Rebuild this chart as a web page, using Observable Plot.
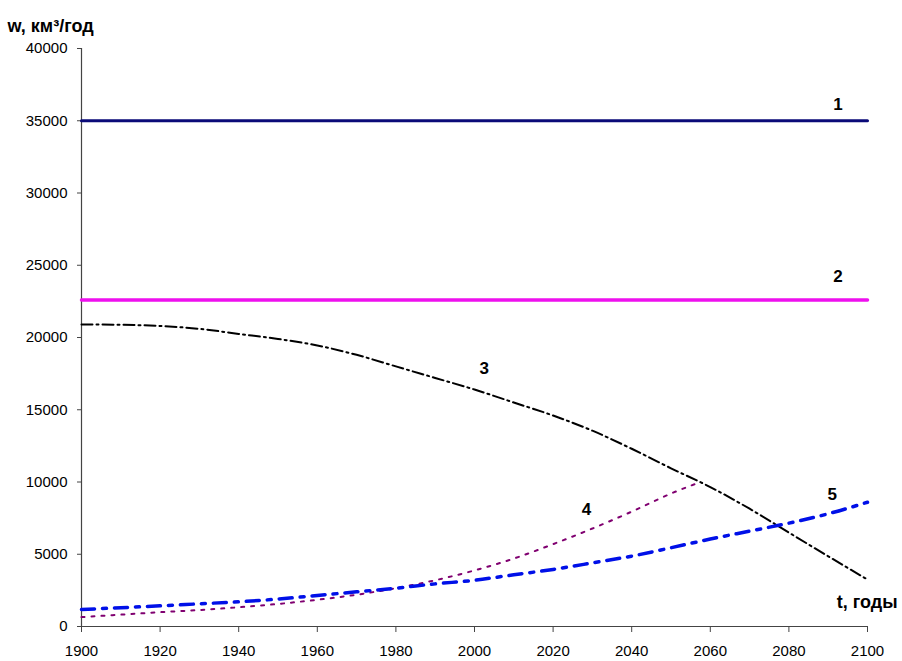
<!DOCTYPE html>
<html>
<head>
<meta charset="utf-8">
<script src="https://cdn.jsdelivr.net/npm/d3@7"></script>
<script src="https://cdn.jsdelivr.net/npm/@observablehq/plot@0.6"></script>
<style>
  html, body { margin: 0; padding: 0; background: #fff; }
  #chart { width: 902px; height: 661px; }
</style>
</head>
<body>
<div id="chart"></div>
<script>
// ---- data ----
const xTicks = [1900, 1920, 1940, 1960, 1980, 2000, 2020, 2040, 2060, 2080, 2100];
const yTicks = [0, 5000, 10000, 15000, 20000, 25000, 30000, 35000, 40000];

const years = [1900, 1910, 1920, 1930, 1940, 1950, 1960, 1970, 1980, 1990, 2000,
               2010, 2020, 2030, 2040, 2050, 2060, 2070, 2080, 2090, 2100];

// 1 — constant level
const series1Years = [1900, 2100];
const series1 = [35000, 35000];
// 2 — constant level
const series2Years = [1900, 2100];
const series2 = [22600, 22600];
// 3 — decreasing curve
const series3 = [20900, 20880, 20800, 20600, 20250, 19900, 19450, 18800, 18000, 17200, 16400,
                 15500, 14600, 13550, 12300, 10950, 9650, 8150, 6500, 4860, 3250];
// 4 — growing curve, ends ~2057
const series4Years = [1900, 1910, 1920, 1930, 1940, 1950, 1960, 1970, 1980, 1990, 2000,
                      2010, 2020, 2030, 2040, 2050, 2057];
const series4 = [650, 820, 990, 1140, 1330, 1560, 1850, 2200, 2650, 3200, 3880,
                 4700, 5700, 6780, 7950, 9200, 9950];
// 5 — growing curve
const series5 = [1180, 1300, 1430, 1570, 1710, 1900, 2150, 2400, 2650, 2950, 3200,
                 3580, 3950, 4400, 4870, 5450, 6050, 6600, 7150, 7800, 8600];

// curve number labels
const labelText = ["1", "2", "3", "4", "5"];
const labelYear = [2092.5, 2092.5, 2002.5, 2028.5, 2091];
const labelValue = [36150, 24250, 17850, 8100, 9150];

// ---- build tables ----
const t1 = series1Years.map((x, i) => ({x, y: series1[i]}));
const t2 = series2Years.map((x, i) => ({x, y: series2[i]}));
const t3 = years.map((x, i) => ({x, y: series3[i]}));
const t4 = series4Years.map((x, i) => ({x, y: series4[i]}));
const t5 = years.map((x, i) => ({x, y: series5[i]}));
const labels = labelText.map((t, i) => ({t, x: labelYear[i], y: labelValue[i]}));

const fmt = d3.format("d");
const font = "'Liberation Sans', Arial, sans-serif";

const chart = Plot.plot({
  width: 902,
  height: 661,
  marginLeft: 81,
  marginRight: 35,
  marginTop: 48,
  marginBottom: 35,
  style: { fontFamily: font, fontSize: "15px", color: "#000", background: "#fff", overflow: "visible" },
  x: { domain: [1900, 2100] },
  y: { domain: [0, 40000] },
  marks: [
    Plot.axisX({ ticks: xTicks, tickFormat: fmt, tickSize: 6, tickPadding: 13, label: null, stroke: "#444", fill: "#000" }),
    Plot.axisY({ ticks: yTicks, tickFormat: fmt, tickSize: 4, tickPadding: 10, label: null, stroke: "#444", fill: "#000" }),
    Plot.ruleX([1900], { stroke: "#444", strokeWidth: 1.2 }),
    Plot.ruleY([0], { stroke: "#444", strokeWidth: 1.2 }),

    Plot.line(t1, { x: "x", y: "y", stroke: "#0a0a78", strokeWidth: 3 }),
    Plot.line(t2, { x: "x", y: "y", stroke: "#ee10ee", strokeWidth: 3.5 }),
    Plot.line(t3, { x: "x", y: "y", curve: "monotone-x", stroke: "#000", strokeWidth: 2, strokeDasharray: "11,4,2,4" }),
    Plot.line(t4, { x: "x", y: "y", curve: "monotone-x", stroke: "#800070", strokeWidth: 2, strokeDasharray: "3,7" }),
    Plot.line(t5, { x: "x", y: "y", curve: "monotone-x", stroke: "#0010e8", strokeWidth: 3.5, strokeDasharray: "13,8,4,8" }),

    Plot.text(labels, { x: "x", y: "y", text: "t", fontSize: 17, fontWeight: "bold", fill: "#000",
      fontFamily: "'Liberation Sans Narrow', 'Liberation Sans', Arial, sans-serif" }),

    Plot.text(["w, км³/год"], { frameAnchor: "top-left", dx: -74, dy: -22, textAnchor: "start", lineAnchor: "middle",
      fontSize: 18, fontWeight: "bold", fill: "#000" }),
    Plot.text(["t, годы"], { frameAnchor: "bottom-right", dx: 30, dy: -24, textAnchor: "end", lineAnchor: "middle",
      fontSize: 18, fontWeight: "bold", fill: "#000" })
  ]
});

document.getElementById("chart").appendChild(chart);
</script>
</body>
</html>
